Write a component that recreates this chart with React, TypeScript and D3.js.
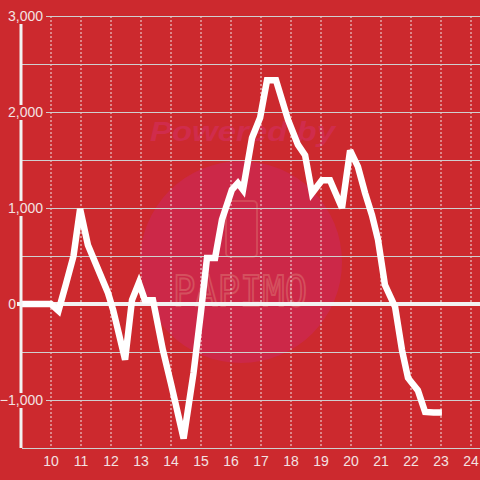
import React from "react";
import * as d3 from "d3";

const hours = [9.0, 10.0, 10.25, 10.5, 10.75, 10.97, 11.23, 11.9, 12.07, 12.47, 12.7, 12.93, 13.13, 13.4, 13.73, 14.0, 14.42, 14.75, 15.0, 15.2, 15.47, 15.7, 16.03, 16.23, 16.4, 16.7, 16.97, 17.2, 17.5, 17.9, 18.23, 18.47, 18.7, 19.03, 19.3, 19.7, 19.97, 20.23, 20.47, 20.7, 20.9, 21.13, 21.47, 21.7, 21.9, 22.23, 22.47, 22.75, 23.03];
const values = [0, 0, -70, 210, 500, 990, 615, 115, -60, -580, 40, 220, 40, 40, -480, -830, -1400, -720, -80, 480, 480, 880, 1190, 1260, 1190, 1730, 1940, 2330, 2330, 1920, 1660, 1550, 1155, 1290, 1290, 1000, 1600, 1430, 1155, 925, 670, 200, -30, -480, -770, -900, -1125, -1130, -1130];

const yTicks = [3000, 2000, 1000, 0, -1000];
const yGrid = [3000, 2500, 2000, 1500, 1000, 500, -500, -1000];
const xTicks = [10, 11, 12, 13, 14, 15, 16, 17, 18, 19, 20, 21, 22, 23, 24];

const BG = "#cc292e";
const LABEL = "#f3e2e2";
const GRID = "#cfcfcf";

export default function App() {
  const W = 480, H = 480;
  const x = d3.scaleLinear().domain([9, 24.3]).range([21, 480]);
  const y = d3.scaleLinear().domain([-1500, 3000]).range([448, 16]);
  const line = d3.line<number>().x((_, i) => x(hours[i])).y((d) => y(d));
  const fmt = d3.format(",");
  const font = "'Liberation Sans', Arial, sans-serif";

  return (
    <svg width={W} height={H} style={{ position: "absolute", left: 0, top: 0 }} xmlns="http://www.w3.org/2000/svg">
      <rect x={0} y={0} width={W} height={H} fill={BG} />
      {/* watermark */}
      <g>
        <circle cx={241} cy={262} r={101} fill="#cc2848" />
        <text x={150} y={141} fontFamily={font} fontWeight="bold" fontStyle="italic" fontSize={27}
          fill="#d02c4c" textLength={185} lengthAdjust="spacingAndGlyphs">Powered by</text>
        <rect x={226} y={201} width={31} height={56} rx={4} fill="none" stroke="#d24858" strokeWidth={2} />
        <text x={173} y={306} fontFamily="'DejaVu Sans Mono', monospace" fontSize={42}
          fill="none" stroke="#d4505e" strokeWidth={2} textLength={134} lengthAdjust="spacingAndGlyphs">PAPIMO</text>
      </g>
      {/* vertical dotted grid */}
      {xTicks.map((t) => (
        <line key={"vx" + t} x1={x(t)} x2={x(t)} y1={y(3000)} y2={y(-1500)} stroke="#f0e6e6" strokeWidth={1} strokeDasharray="2,2" />
      ))}
      {/* horizontal grid */}
      {yGrid.map((t) => (
        <line key={"hy" + t} x1={22} x2={W} y1={y(t) + 0.5} y2={y(t) + 0.5} stroke={GRID} strokeWidth={1} />
      ))}
      {/* x axis line */}
      <line x1={22} x2={W} y1={y(-1500) + 0.5} y2={y(-1500) + 0.5} stroke={GRID} strokeWidth={1} />
      {/* zero line */}
      <line x1={17} x2={W} y1={y(0)} y2={y(0)} stroke="#f2f2f2" strokeWidth={4} />
      {/* data line */}
      <path d={line(values) || ""} fill="none" stroke="#ffffff" strokeWidth={6.5} strokeLinejoin="miter" strokeMiterlimit={3} />
      {/* y axis */}
      <line x1={21} x2={21} y1={y(3000)} y2={y(-1500)} stroke="#f2f2f2" strokeWidth={3} />
      {/* y labels */}
      {yTicks.map((t) => (
        <g key={"yl" + t}>
          {t !== 0 && <rect x={3} y={y(t) - 7} width={43} height={15} fill={BG} />}
          <text x={t === 0 ? 16 : 43} y={y(t) + 5} textAnchor="end" fontFamily={font} fontSize={14} fill={LABEL}>{fmt(t)}</text>
        </g>
      ))}
      {/* x labels */}
      {xTicks.map((t) => (
        <text key={"xl" + t} x={x(t)} y={466} textAnchor="middle" fontFamily={font} fontSize={14} fill={LABEL}>{t}</text>
      ))}
    </svg>
  );
}
